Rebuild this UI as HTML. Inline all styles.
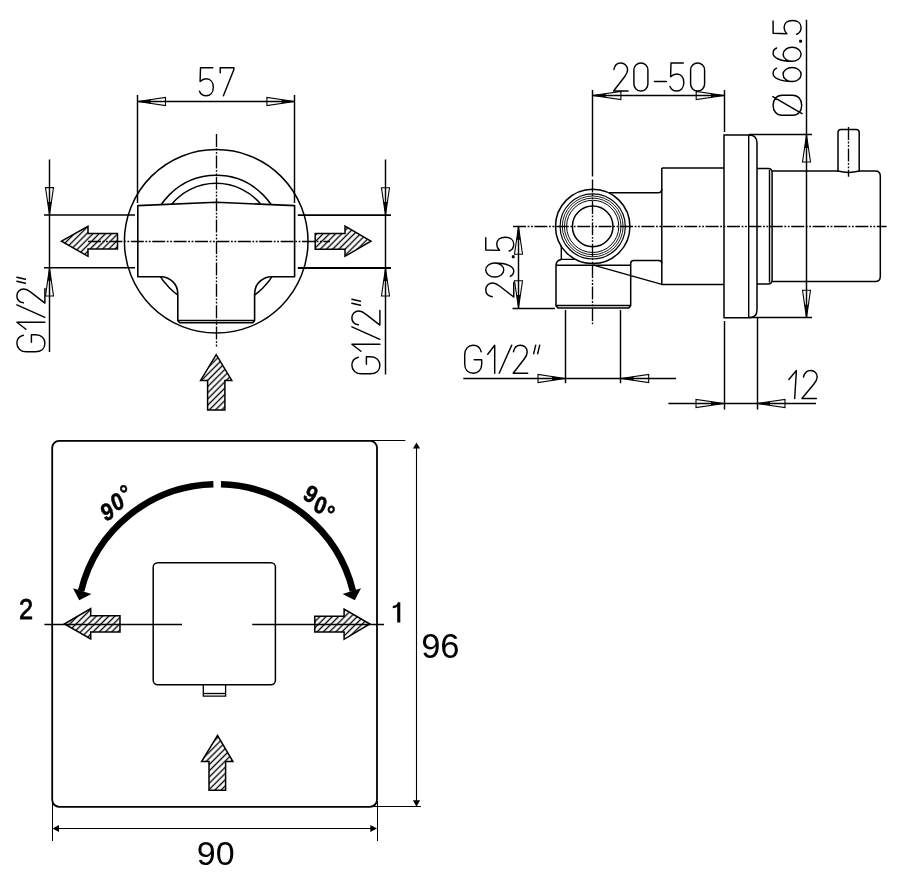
<!DOCTYPE html>
<html><head><meta charset="utf-8"><style>
html,body{margin:0;padding:0;background:#fff;}
svg{display:block;font-family:"Liberation Sans",sans-serif;will-change:transform;}
</style></head><body>
<svg width="900" height="884" viewBox="0 0 900 884">
<rect width="900" height="884" fill="#fff"/>
<defs><pattern id="hatch" patternUnits="userSpaceOnUse" width="4.4" height="4.4" patternTransform="rotate(45)">
<rect width="4.4" height="4.4" fill="#fff"/><line x1="2.2" y1="-1" x2="2.2" y2="5.4" stroke="#000" stroke-width="1.35"/></pattern></defs>
<circle cx="216.2" cy="241.3" r="91.8" fill="none" stroke="#000" stroke-width="1.5"/>
<circle cx="216.2" cy="241.3" r="66" fill="none" stroke="#000" stroke-width="1.5"/>
<path d="M171.6,204.2 A58,58 0 0 1 260.8,204.2" fill="none" stroke="#000" stroke-width="1.5"/>
<path d="M137.8,205.6 L216.2,202.2 L294.6,205.6 L294.6,276.7 L271.6,276.7 A17,17 0 0 0 254.6,293.7 L254.6,320.5 L252.8,322.8 L179.6,322.8 L177.8,320.5 L177.8,293.7 A17,17 0 0 0 160.8,276.7 L137.8,276.7 Z" fill="#fff" stroke="#000" stroke-width="1.6" stroke-linejoin="round"/>
<line x1="177.80" y1="320.50" x2="254.60" y2="320.50" stroke="#000" stroke-width="1.45"/>
<line x1="44.00" y1="214.90" x2="135.00" y2="214.90" stroke="#000" stroke-width="1.5"/>
<line x1="44.00" y1="267.80" x2="135.00" y2="267.80" stroke="#000" stroke-width="1.5"/>
<line x1="297.80" y1="215.10" x2="391.00" y2="215.10" stroke="#000" stroke-width="1.8"/>
<line x1="297.80" y1="268.00" x2="391.00" y2="268.00" stroke="#000" stroke-width="1.8"/>
<line x1="216.50" y1="134.00" x2="216.50" y2="347.80" stroke="#000" stroke-width="1.3499999999999999" stroke-dasharray="13 1.6 1.8 1.6 1.8 1.6"/>
<line x1="137.50" y1="95.00" x2="137.50" y2="203.00" stroke="#000" stroke-width="1.45"/>
<line x1="294.50" y1="95.00" x2="294.50" y2="203.00" stroke="#000" stroke-width="1.45"/>
<line x1="137.80" y1="101.50" x2="294.60" y2="101.50" stroke="#000" stroke-width="1.45"/>
<polygon points="137.80,101.50 165.50,105.50 165.50,97.50" fill="none" stroke="#000" stroke-width="1.1" stroke-linejoin="miter"/>
<polygon points="137.80,101.50 150.80,103.38 150.80,99.62" fill="#000"/>
<polygon points="294.60,101.50 266.90,97.50 266.90,105.50" fill="none" stroke="#000" stroke-width="1.1" stroke-linejoin="miter"/>
<polygon points="294.60,101.50 281.60,99.62 281.60,103.38" fill="#000"/>
<g transform="translate(199.3,67.8)" fill="none" stroke="#000" stroke-width="1.45" stroke-linecap="round" stroke-linejoin="round"><path vector-effect="non-scaling-stroke" transform="translate(0.00,0)" d="M13.5,0 L1.2,0 L0.8,13.8 C2.5,12 4.8,11 7,11 C11.2,11 14,14.3 14,19.5 C14,24.8 11,28 7,28 C3.8,28 1.2,26.2 0.2,23.5"/><path vector-effect="non-scaling-stroke" transform="translate(20.60,0)" d="M0.3,5 L0.3,0 L14,0 L14,1.8 L3.5,28"/></g>
<line x1="49.50" y1="159.50" x2="49.50" y2="352.00" stroke="#000" stroke-width="1.45"/>
<polygon points="49.50,214.90 53.50,187.60 45.50,187.60" fill="none" stroke="#000" stroke-width="1.1" stroke-linejoin="miter"/>
<polygon points="49.50,214.90 51.40,201.90 47.60,201.90" fill="#000"/>
<polygon points="49.50,267.80 45.50,296.00 53.50,296.00" fill="none" stroke="#000" stroke-width="1.1" stroke-linejoin="miter"/>
<polygon points="49.50,267.80 47.66,280.80 51.34,280.80" fill="#000"/>
<g transform="translate(16.9,351.8) rotate(-90)" fill="none" stroke="#000" stroke-width="1.45" stroke-linecap="round" stroke-linejoin="round"><path vector-effect="non-scaling-stroke" transform="translate(0.00,0)" d="M16.5,6.5 C15.5,2.5 12.5,0 8.5,0 C3.5,0 0,4 0,9.5 L0,18.5 C0,24.5 3.5,28 8.5,28 C13.5,28 17,24.5 17,19 L17,14.5 L9.5,14.5"/><path vector-effect="non-scaling-stroke" transform="translate(22.50,0)" d="M0,9 L7,0 L7,28"/><path vector-effect="non-scaling-stroke" transform="translate(34.50,0)" d="M0,28 L12.5,0"/><path vector-effect="non-scaling-stroke" transform="translate(48.70,0)" d="M0.3,6.5 C1,2.5 3.8,0 7.2,0 C11,0 14,2.8 14,6.8 C14,9.5 12.8,11.5 11,13.8 L0,28 L14.5,28"/><path vector-effect="non-scaling-stroke" transform="translate(68.50,0)" d="M0,8.5 L2,0 M4,8.5 L6,0"/></g>
<line x1="385.50" y1="159.50" x2="385.50" y2="374.50" stroke="#000" stroke-width="1.45"/>
<polygon points="385.50,215.10 389.50,187.80 381.50,187.80" fill="none" stroke="#000" stroke-width="1.1" stroke-linejoin="miter"/>
<polygon points="385.50,215.10 387.40,202.10 383.60,202.10" fill="#000"/>
<polygon points="385.50,268.00 381.50,296.00 389.50,296.00" fill="none" stroke="#000" stroke-width="1.1" stroke-linejoin="miter"/>
<polygon points="385.50,268.00 383.64,281.00 387.36,281.00" fill="#000"/>
<g transform="translate(351.9,373.8) rotate(-90)" fill="none" stroke="#000" stroke-width="1.45" stroke-linecap="round" stroke-linejoin="round"><path vector-effect="non-scaling-stroke" transform="translate(0.00,0)" d="M16.5,6.5 C15.5,2.5 12.5,0 8.5,0 C3.5,0 0,4 0,9.5 L0,18.5 C0,24.5 3.5,28 8.5,28 C13.5,28 17,24.5 17,19 L17,14.5 L9.5,14.5"/><path vector-effect="non-scaling-stroke" transform="translate(22.50,0)" d="M0,9 L7,0 L7,28"/><path vector-effect="non-scaling-stroke" transform="translate(34.50,0)" d="M0,28 L12.5,0"/><path vector-effect="non-scaling-stroke" transform="translate(48.70,0)" d="M0.3,6.5 C1,2.5 3.8,0 7.2,0 C11,0 14,2.8 14,6.8 C14,9.5 12.8,11.5 11,13.8 L0,28 L14.5,28"/><path vector-effect="non-scaling-stroke" transform="translate(68.50,0)" d="M0,8.5 L2,0 M4,8.5 L6,0"/></g>
<polygon points="61.50,241.20 88.00,226.30 88.00,233.50 117.50,233.50 117.50,249.10 88.00,249.10 88.00,256.30" fill="url(#hatch)" stroke="#000" stroke-width="1.5" stroke-linejoin="miter"/>
<polygon points="370.90,241.20 345.00,226.10 345.00,233.60 315.20,233.60 315.20,249.20 345.00,249.20 345.00,256.30" fill="url(#hatch)" stroke="#000" stroke-width="1.5" stroke-linejoin="miter"/>
<line x1="88.00" y1="241.50" x2="330.00" y2="241.50" stroke="#000" stroke-width="1.3499999999999999" stroke-dasharray="13 1.6 1.8 1.6 1.8 1.6"/>
<polygon points="216.20,354.60 231.80,380.40 224.90,380.40 224.90,410.00 207.60,410.00 207.60,380.40 200.60,380.40" fill="url(#hatch)" stroke="#000" stroke-width="1.5" stroke-linejoin="miter"/>
<circle cx="592.7" cy="226.4" r="37.2" fill="none" stroke="#000" stroke-width="1.5"/>
<circle cx="592.7" cy="226.4" r="32.6" fill="none" stroke="#000" stroke-width="1.2"/>
<circle cx="592.7" cy="226.4" r="30.4" fill="none" stroke="#000" stroke-width="0.9"/>
<circle cx="592.7" cy="226.4" r="28.3" fill="none" stroke="#000" stroke-width="0.9"/>
<circle cx="592.7" cy="226.4" r="26.1" fill="none" stroke="#000" stroke-width="1.0"/>
<circle cx="592.7" cy="226.4" r="20.3" fill="none" stroke="#000" stroke-width="1.5"/>
<path d="M608.8,192.7 L658.2,192.7 Q661.8,192.7 661.8,189" fill="none" stroke="#000" stroke-width="1.5"/>
<path d="M661.8,168 L724,168 M661.8,168 L661.8,284.4 L724,284.4" fill="none" stroke="#000" stroke-width="1.5"/>
<path d="M630.7,306 L630.7,263.5 Q630.7,260.5 633.7,260.5 L658.8,260.5 Q661.8,260.5 661.8,263.5" fill="none" stroke="#000" stroke-width="1.5"/>
<path d="M630.7,265.2 L556,265.2 M561.3,259.4 Q556,260.5 556,265.2 L556,305.9 L558,307.9 L628.7,307.9 L630.7,305.9" fill="none" stroke="#000" stroke-width="1.5"/>
<line x1="556.00" y1="305.50" x2="630.70" y2="305.50" stroke="#000" stroke-width="1.3499999999999999"/>
<path d="M561.3,245.5 L561.3,259.4 L574.5,259.4" fill="none" stroke="#000" stroke-width="1.4"/>
<line x1="592.60" y1="264.90" x2="661.80" y2="284.40" stroke="#000" stroke-width="1.4"/>
<path d="M724,134.9 L749,134.9 C754,134.9 757,138 757,143 L757,309.7 C757,314.7 754,317.7 749,317.7 L724,317.7 Z" fill="none" stroke="#000" stroke-width="1.5"/>
<line x1="748.70" y1="134.90" x2="748.70" y2="317.70" stroke="#000" stroke-width="1.4"/>
<path d="M757,168.5 L768.1,168.5 Q772.1,168.5 772.1,172.5 L772.1,280.1 Q772.1,284.1 768.1,284.1 L757,284.1" fill="none" stroke="#000" stroke-width="1.5"/>
<line x1="769.50" y1="170.00" x2="769.50" y2="282.50" stroke="#000" stroke-width="1.45"/>
<path d="M772.1,171 L838,171 Q848.6,173.8 859.2,171 L875.3,171 Q880.3,171 880.3,176 L880.3,276.6 Q880.3,281.6 875.3,281.6 L772.1,281.6" fill="none" stroke="#000" stroke-width="1.5"/>
<path d="M838,171.5 L838,132.4 Q838,129.4 841,129.4 L856.2,129.4 Q859.2,129.4 859.2,132.4 L859.2,171.5" fill="none" stroke="#000" stroke-width="1.5"/>
<line x1="848.50" y1="127.00" x2="848.50" y2="176.70" stroke="#000" stroke-width="1.3499999999999999" stroke-dasharray="13 1.6 1.8 1.6 1.8 1.6"/>
<line x1="513.00" y1="226.50" x2="886.60" y2="226.50" stroke="#000" stroke-width="1.3499999999999999" stroke-dasharray="13 1.6 1.8 1.6 1.8 1.6"/>
<line x1="592.50" y1="90.00" x2="592.50" y2="176.50" stroke="#000" stroke-width="1.45"/>
<line x1="592.50" y1="179.50" x2="592.50" y2="325.00" stroke="#000" stroke-width="1.3499999999999999" stroke-dasharray="13 1.6 1.8 1.6 1.8 1.6"/>
<line x1="724.50" y1="90.00" x2="724.50" y2="132.00" stroke="#000" stroke-width="1.45"/>
<line x1="724.50" y1="321.00" x2="724.50" y2="409.60" stroke="#000" stroke-width="1.45"/>
<line x1="757.50" y1="317.70" x2="757.50" y2="409.60" stroke="#000" stroke-width="1.45"/>
<line x1="749.00" y1="134.50" x2="812.00" y2="134.50" stroke="#000" stroke-width="1.3499999999999999"/>
<line x1="749.00" y1="317.50" x2="812.00" y2="317.50" stroke="#000" stroke-width="1.3499999999999999"/>
<line x1="512.50" y1="308.50" x2="555.00" y2="308.50" stroke="#000" stroke-width="1.45"/>
<line x1="565.50" y1="310.00" x2="565.50" y2="383.20" stroke="#000" stroke-width="1.45"/>
<line x1="620.50" y1="310.00" x2="620.50" y2="383.20" stroke="#000" stroke-width="1.45"/>
<line x1="592.70" y1="95.50" x2="724.00" y2="95.50" stroke="#000" stroke-width="1.45"/>
<polygon points="592.70,95.50 620.90,99.50 620.90,91.50" fill="none" stroke="#000" stroke-width="1.1" stroke-linejoin="miter"/>
<polygon points="592.70,95.50 605.70,97.34 605.70,93.66" fill="#000"/>
<polygon points="724.00,95.50 696.20,91.50 696.20,99.50" fill="none" stroke="#000" stroke-width="1.1" stroke-linejoin="miter"/>
<polygon points="724.00,95.50 711.00,93.63 711.00,97.37" fill="#000"/>
<g transform="translate(613.6,63)" fill="none" stroke="#000" stroke-width="1.45" stroke-linecap="round" stroke-linejoin="round"><path vector-effect="non-scaling-stroke" transform="translate(0.00,0)" d="M0.3,6.5 C1,2.5 3.8,0 7.2,0 C11,0 14,2.8 14,6.8 C14,9.5 12.8,11.5 11,13.8 L0,28 L14.5,28"/><path vector-effect="non-scaling-stroke" transform="translate(20.30,0)" d="M0,7 A7,7 0 0 1 14,7 L14,21 A7,7 0 0 1 0,21 Z"/><path vector-effect="non-scaling-stroke" transform="translate(40.80,0)" d="M0,18.4 L12,18.4"/><path vector-effect="non-scaling-stroke" transform="translate(56.20,0)" d="M13.5,0 L1.2,0 L0.8,13.8 C2.5,12 4.8,11 7,11 C11.2,11 14,14.3 14,19.5 C14,24.8 11,28 7,28 C3.8,28 1.2,26.2 0.2,23.5"/><path vector-effect="non-scaling-stroke" transform="translate(77.00,0)" d="M0,7 A7,7 0 0 1 14,7 L14,21 A7,7 0 0 1 0,21 Z"/></g>
<line x1="806.50" y1="19.75" x2="806.50" y2="317.70" stroke="#000" stroke-width="1.45"/>
<polygon points="806.50,134.90 802.50,162.00 810.50,162.00" fill="none" stroke="#000" stroke-width="1.1" stroke-linejoin="miter"/>
<polygon points="806.50,134.90 804.58,147.90 808.42,147.90" fill="#000"/>
<polygon points="806.50,317.70 810.50,290.30 802.50,290.30" fill="none" stroke="#000" stroke-width="1.1" stroke-linejoin="miter"/>
<polygon points="806.50,317.70 808.40,304.70 804.60,304.70" fill="#000"/>
<g transform="translate(773.1,115.2) rotate(-90)" fill="none" stroke="#000" stroke-width="1.45" stroke-linecap="round" stroke-linejoin="round"><path vector-effect="non-scaling-stroke" transform="translate(0.00,0)" d="M0,9 C0,3.5 4,0 10,0 C16,0 20,3.5 20,9 L20,19.6 C20,25 16,28.6 10,28.6 C4,28.6 0,25 0,19.6 Z M18.5,-0.3 L1.5,28.9"/><path vector-effect="non-scaling-stroke" transform="translate(33.70,0)" d="M0,19 A7,9 0 1 0 14,19 A7,9 0 1 0 0,19 C0,7 3.5,0 8,0 C10.5,0 12.3,1.2 13.3,3.5"/><path vector-effect="non-scaling-stroke" transform="translate(53.90,0)" d="M0,19 A7,9 0 1 0 14,19 A7,9 0 1 0 0,19 C0,7 3.5,0 8,0 C10.5,0 12.3,1.2 13.3,3.5"/><path vector-effect="non-scaling-stroke" transform="translate(73.00,0)" d="M0.2,26.8 L1.8,26.8 L1.8,28.2 L0.2,28.2 Z" fill="#000"/><path vector-effect="non-scaling-stroke" transform="translate(80.70,0)" d="M13.5,0 L1.2,0 L0.8,13.8 C2.5,12 4.8,11 7,11 C11.2,11 14,14.3 14,19.5 C14,24.8 11,28 7,28 C3.8,28 1.2,26.2 0.2,23.5"/></g>
<line x1="518.50" y1="226.70" x2="518.50" y2="308.00" stroke="#000" stroke-width="1.45"/>
<polygon points="518.50,226.70 514.50,254.20 522.50,254.20" fill="none" stroke="#000" stroke-width="1.1" stroke-linejoin="miter"/>
<polygon points="518.50,226.70 516.61,239.70 520.39,239.70" fill="#000"/>
<polygon points="518.50,308.00 522.50,280.80 514.50,280.80" fill="none" stroke="#000" stroke-width="1.1" stroke-linejoin="miter"/>
<polygon points="518.50,308.00 520.41,295.00 516.59,295.00" fill="#000"/>
<g transform="translate(485.75,297) rotate(-90)" fill="none" stroke="#000" stroke-width="1.45" stroke-linecap="round" stroke-linejoin="round"><path vector-effect="non-scaling-stroke" transform="translate(0.00,0)" d="M0.3,6.5 C1,2.5 3.8,0 7.2,0 C11,0 14,2.8 14,6.8 C14,9.5 12.8,11.5 11,13.8 L0,28 L14.5,28"/><path vector-effect="non-scaling-stroke" transform="translate(20.00,0)" d="M14,9 A7,9 0 1 0 0,9 A7,9 0 1 0 14,9 C14,21 10.5,28 6,28 C3.5,28 1.7,26.8 0.7,24.5"/><path vector-effect="non-scaling-stroke" transform="translate(39.30,0)" d="M0.2,26.8 L1.8,26.8 L1.8,28.2 L0.2,28.2 Z" fill="#000"/><path vector-effect="non-scaling-stroke" transform="translate(45.80,0)" d="M13.5,0 L1.2,0 L0.8,13.8 C2.5,12 4.8,11 7,11 C11.2,11 14,14.3 14,19.5 C14,24.8 11,28 7,28 C3.8,28 1.2,26.2 0.2,23.5"/></g>
<line x1="463.30" y1="378.50" x2="676.10" y2="378.50" stroke="#000" stroke-width="1.45"/>
<polygon points="565.20,378.50 538.00,374.50 538.00,382.50" fill="none" stroke="#000" stroke-width="1.1" stroke-linejoin="miter"/>
<polygon points="565.20,378.50 552.20,376.59 552.20,380.41" fill="#000"/>
<polygon points="620.70,378.50 648.70,382.50 648.70,374.50" fill="none" stroke="#000" stroke-width="1.1" stroke-linejoin="miter"/>
<polygon points="620.70,378.50 633.70,380.36 633.70,376.64" fill="#000"/>
<g transform="translate(464.7,345.2)" fill="none" stroke="#000" stroke-width="1.45" stroke-linecap="round" stroke-linejoin="round"><path vector-effect="non-scaling-stroke" transform="translate(0.00,0)" d="M16.5,6.5 C15.5,2.5 12.5,0 8.5,0 C3.5,0 0,4 0,9.5 L0,18.5 C0,24.5 3.5,28 8.5,28 C13.5,28 17,24.5 17,19 L17,14.5 L9.5,14.5"/><path vector-effect="non-scaling-stroke" transform="translate(23.00,0)" d="M0,9 L7,0 L7,28"/><path vector-effect="non-scaling-stroke" transform="translate(34.50,0)" d="M0,28 L12.5,0"/><path vector-effect="non-scaling-stroke" transform="translate(48.50,0)" d="M0.3,6.5 C1,2.5 3.8,0 7.2,0 C11,0 14,2.8 14,6.8 C14,9.5 12.8,11.5 11,13.8 L0,28 L14.5,28"/><path vector-effect="non-scaling-stroke" transform="translate(69.00,0)" d="M0,8.5 L2,0 M4,8.5 L6,0"/></g>
<line x1="668.40" y1="403.50" x2="816.00" y2="403.50" stroke="#000" stroke-width="1.45"/>
<polygon points="724.00,403.50 696.00,399.50 696.00,407.50" fill="none" stroke="#000" stroke-width="1.1" stroke-linejoin="miter"/>
<polygon points="724.00,403.50 711.00,401.64 711.00,405.36" fill="#000"/>
<polygon points="757.00,403.50 785.00,407.50 785.00,399.50" fill="none" stroke="#000" stroke-width="1.1" stroke-linejoin="miter"/>
<polygon points="757.00,403.50 770.00,405.36 770.00,401.64" fill="#000"/>
<g transform="translate(789.4,370.5) skewX(-3.5)" fill="none" stroke="#000" stroke-width="1.45" stroke-linecap="round" stroke-linejoin="round"><path vector-effect="non-scaling-stroke" transform="translate(0.00,0)" d="M0,9 L7,0 L7,28"/><path vector-effect="non-scaling-stroke" transform="translate(14.20,0)" d="M0.3,6.5 C1,2.5 3.8,0 7.2,0 C11,0 14,2.8 14,6.8 C14,9.5 12.8,11.5 11,13.8 L0,28 L14.5,28"/></g>
<rect x="52.2" y="440.8" width="324.8" height="366" rx="7" fill="none" stroke="#000" stroke-width="1.8"/>
<rect x="153.2" y="562.7" width="122.2" height="122.1" rx="4.5" fill="none" stroke="#000" stroke-width="1.5"/>
<path d="M203.3,684.8 L203.3,696.2 L225.6,696.2 L225.6,684.8" fill="none" stroke="#000" stroke-width="1.3"/>
<line x1="203.30" y1="693.50" x2="225.60" y2="693.50" stroke="#000" stroke-width="1.3499999999999999"/>
<path d="M213.4,484.25 A139.9,139.9 0 0 0 81.09,590.93" fill="none" stroke="#000" stroke-width="6.6"/>
<path d="M221,484.25 A139.9,139.9 0 0 1 352.91,590.93" fill="none" stroke="#000" stroke-width="6.6"/>
<polygon points="73,588.3 91.4,594 79.2,600.2" fill="#000"/>
<polygon points="361,588.3 342.6,594 354.8,600.2" fill="#000"/>
<text transform="translate(107.30,511.40) rotate(-20) scale(0.9,1)" x="0" y="8.64" text-anchor="middle" font-family="Liberation Sans" font-weight="bold" font-size="24" stroke="#000" stroke-width="0.5">9</text>
<text transform="translate(117.20,501.30) rotate(-20) scale(0.9,1)" x="0" y="8.64" text-anchor="middle" font-family="Liberation Sans" font-weight="bold" font-size="24" stroke="#000" stroke-width="0.5">0</text>
<text transform="translate(123.40,488.00) rotate(-20) scale(0.9,1)" x="0" y="13.80" text-anchor="middle" font-family="Liberation Sans" font-weight="bold" font-size="24" stroke="#000" stroke-width="0.5">°</text>
<text transform="translate(311.00,493.70) rotate(30) scale(0.9,1)" x="0" y="8.64" text-anchor="middle" font-family="Liberation Sans" font-weight="bold" font-size="24" stroke="#000" stroke-width="0.5">9</text>
<text transform="translate(320.60,504.60) rotate(20) scale(0.9,1)" x="0" y="8.64" text-anchor="middle" font-family="Liberation Sans" font-weight="bold" font-size="24" stroke="#000" stroke-width="0.5">0</text>
<text transform="translate(331.60,508.70) rotate(20) scale(0.9,1)" x="0" y="13.80" text-anchor="middle" font-family="Liberation Sans" font-weight="bold" font-size="24" stroke="#000" stroke-width="0.5">°</text>
<polygon points="64.40,624.00 90.70,608.60 90.70,615.80 120.00,615.80 120.00,632.00 90.70,632.00 90.70,639.00" fill="url(#hatch)" stroke="#000" stroke-width="1.5" stroke-linejoin="miter"/>
<polygon points="369.80,624.00 344.10,609.00 344.10,616.20 314.80,616.20 314.80,632.00 344.10,632.00 344.10,639.30" fill="url(#hatch)" stroke="#000" stroke-width="1.5" stroke-linejoin="miter"/>
<polygon points="217.50,735.40 232.90,761.60 225.60,761.60 225.60,790.20 209.00,790.20 209.00,761.60 201.60,761.60" fill="url(#hatch)" stroke="#000" stroke-width="1.5" stroke-linejoin="miter"/>
<line x1="44.40" y1="624.50" x2="182.00" y2="624.50" stroke="#000" stroke-width="1.45"/>
<line x1="252.20" y1="624.50" x2="384.00" y2="624.50" stroke="#000" stroke-width="1.45"/>
<text x="0" y="0" font-family="Liberation Sans" font-size="29.5" stroke="#000" stroke-width="0.8" transform="translate(18.9,618.8) scale(0.86,1)">2</text>
<path d="M397.2,622.6 L400.3,622.6 L400.3,602.3 L397.9,602.3 C397.2,604.6 395.3,605.8 392.8,606 L392.8,608.3 C394.8,608.2 396.3,607.6 397.2,606.8 Z" fill="#000"/>
<text x="421.2" y="658" font-family="Liberation Sans" font-size="34.5">96</text>
<text x="196.8" y="865.3" font-family="Liberation Sans" font-size="34">90</text>
<line x1="371.00" y1="440.50" x2="405.30" y2="440.50" stroke="#000" stroke-width="1.05"/>
<line x1="371.00" y1="806.50" x2="421.00" y2="806.50" stroke="#000" stroke-width="1.05"/>
<line x1="52.50" y1="801.00" x2="52.50" y2="841.00" stroke="#000" stroke-width="1.05"/>
<line x1="377.50" y1="801.00" x2="377.50" y2="841.00" stroke="#000" stroke-width="1.05"/>
<line x1="416.50" y1="446.00" x2="416.50" y2="802.00" stroke="#000" stroke-width="1.0999999999999999"/>
<polygon points="416.50,442.50 412.90,448.50 420.10,448.50" fill="#000"/>
<polygon points="416.50,806.80 420.10,800.30 412.90,800.30" fill="#000"/>
<line x1="56.00" y1="828.50" x2="373.00" y2="828.50" stroke="#000" stroke-width="1.0999999999999999"/>
<polygon points="52.50,828.50 59.00,831.90 59.00,825.10" fill="#000"/>
<polygon points="377.00,828.50 370.30,825.10 370.30,831.90" fill="#000"/>
</svg></body></html>
